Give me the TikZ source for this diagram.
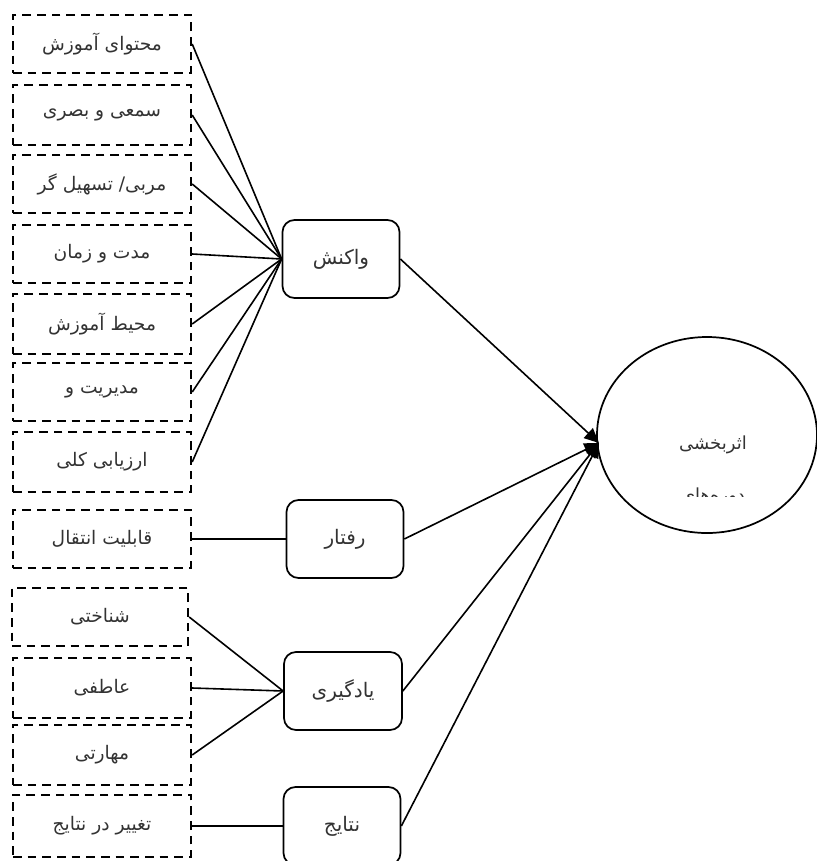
\documentclass[tikz,border=0pt]{standalone}
\usepackage{fontspec}
\newfontfamily\arabicfont[Script=Arabic]{DejaVu Sans}
\TeXXeTstate=1
\usetikzlibrary{arrows.meta,shapes.geometric}

\tikzset{every picture/.style={line width=0.75pt}}
\tikzset{
  dashbox/.style={draw, dash pattern=on 6.5pt off 4.5pt, line width=1.8pt, minimum width=133.5pt, minimum height=43.5pt, inner sep=0pt, font=\arabicfont\fontsize{14}{16}\selectfont, text=black!80},
  roundbox/.style={draw, rounded corners=9pt, line width=1.3pt, minimum width=87.75pt, minimum height=58.5pt, inner sep=0pt, font=\arabicfont\fontsize{15}{17}\selectfont, text=black!80},
  link/.style={line width=1.2pt},
  tolink/.style={line width=1.2pt, -{Triangle[length=11pt,width=10pt]}}
}

\begin{document}
\begin{tikzpicture}[x=0.75pt,y=0.75pt,yscale=-1,xscale=1]
	\useasboundingbox (0,0) rectangle (817,861);

	%Shape: Rectangle (dashed) -- left column
	\node (mohtava) [dashbox] at (102,44) {\beginR محتوای آموزش\endR};
	\node (samei) [dashbox, minimum height=45pt] at (102,115) {\beginR سمعی و بصری\endR};
	\node (morabi) [dashbox] at (102,184) {\beginR مربی/ تسهیل گر\endR};
	\node (modat) [dashbox] at (102,254) {\beginR مدت و زمان\endR};
	\node (mohit) [dashbox, minimum height=45pt] at (102,324) {\beginR محیط آموزش\endR};
	\node (modiriat) [dashbox] at (102,392) {\beginR مدیریت و\endR};
	\node (arzyabi) [dashbox, minimum height=45pt] at (102,462) {\beginR ارزیابی کلی\endR};
	\node (enteghal) [dashbox] at (102,539) {\beginR قابلیت انتقال\endR};
	\node (shenakhti) [dashbox, minimum width=132pt] at (100,617) {\beginR شناختی\endR};
	\node (atefi) [dashbox, minimum height=45pt] at (102,688) {\beginR عاطفی\endR};
	\node (maharati) [dashbox, minimum height=45pt] at (102,755) {\beginR مهارتی\endR};
	\node (taghyir) [dashbox, minimum height=46.5pt] at (102,826) {\beginR تغییر در نتایج\endR};

	%Rounded Rect -- levels
	\node (vakonesh) [roundbox] at (341,259) {\beginR واکنش\endR};
	\node (raftar) [roundbox] at (345,539) {\beginR رفتار\endR};
	\node (yadgiri) [roundbox, minimum width=88.5pt] at (343,691) {\beginR یادگیری\endR};
	\node (natayej) [roundbox] at (342,826) {\beginR نتایج\endR};

	%Shape: Ellipse
	\node (asar) [draw, ellipse, line width=1.3pt, minimum width=165pt, minimum height=147pt, inner sep=0pt] at (707,435) {};
	\coordinate (tip) at (599,443);
	% Text Node
	\node (asartxt) at (713,445) {\arabicfont\fontsize{13.5}{15}\selectfont\color{black!80}\beginR اثربخشی\endR};
	\begin{scope}
		\clip (600,470) rectangle (817,496);
		% Text Node
		\node (dorehtxt) [anchor=base] at (713,501) {\arabicfont\fontsize{13.5}{15}\selectfont\color{black!80}\beginR دوره‌های\endR};
	\end{scope}

	%Straight Lines -- into the levels
	\foreach \n in {mohtava,samei,morabi,modat,mohit,modiriat,arzyabi}
		\draw [link] (\n.east) -- (vakonesh.west);
	\draw [link] (enteghal.east) -- (raftar.west);
	\foreach \n in {shenakhti,atefi,maharati}
		\draw [link] (\n.east) -- (yadgiri.west);
	\draw [link] (taghyir.east) -- (natayej.west);

	%Straight Lines with Arrow -- into the ellipse
	\draw [tolink] (vakonesh.east) -- (tip);
	\draw [tolink] (raftar.east) -- (tip);
	\draw [tolink] (yadgiri.east) -- (tip);
	\draw [tolink] (natayej.east) -- (tip);

\end{tikzpicture}
\end{document}
